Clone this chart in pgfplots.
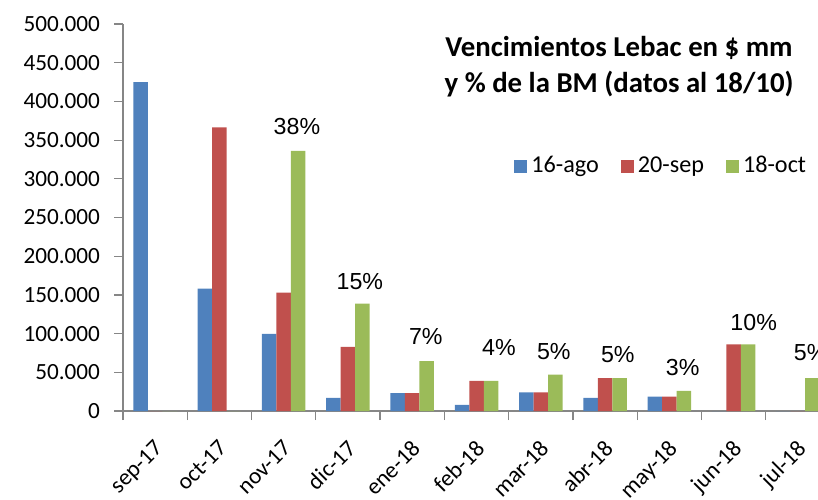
\documentclass[border=0pt]{standalone}
\usepackage{pgfplots}
\pgfplotsset{compat=1.18}
\usepackage{fontspec}
\setmainfont{Liberation Sans}
\newfontfamily\carlito{Carlito}
\definecolor{cblue}{HTML}{4F81BD}
\definecolor{cred}{HTML}{C0504D}
\definecolor{cgreen}{HTML}{9BBB59}
\definecolor{axgray}{HTML}{868686}
\begin{document}
\begin{tikzpicture}
\path[use as bounding box] (-61.5pt,-44pt) rectangle (347.5pt,205.5pt);
\clip (-61.5pt,-44pt) rectangle (347.5pt,205.5pt);
\begin{axis}[
  at={(0pt,0pt)}, anchor=south west,
  scale only axis, width=353.5pt, height=193.5pt,
  xmin=-0.5, xmax=10.5, ymin=0, ymax=500000,
  axis x line*=bottom, axis y line*=left,
  axis line style={axgray, line width=0.6pt},
  tick align=outside,
  major tick length=4.5pt, minor tick length=4.5pt,
  xtick={0,...,10},
  xticklabels={sep-17,oct-17,nov-17,dic-17,ene-18,feb-18,mar-18,abr-18,may-18,jun-18,jul-18},
  major x tick style={draw=none},
  minor xtick={-0.5,0.5,...,10.5},
  minor x tick style={axgray, line width=0.6pt},
  ytick={0,50000,...,500000},
  y tick style={axgray, line width=0.6pt},
  scaled y ticks=false,
  /pgf/number format/assume math mode=true,
  /pgf/number format/fixed,
  /pgf/number format/1000 sep={.},
  yticklabel style={font=\carlito\fontsize{11.6}{13}\selectfont, black, xshift=-3.5pt},
  xticklabel style={font=\carlito\fontsize{11.6}{13}\selectfont, black, anchor=north east, yshift=-4.5pt, xshift=-1pt, rotate=45},
  clip=false,
  legend style={at={(axis description cs:0.553,0.633)}, anchor=west, draw=none, fill=none,
    legend columns=3, inner sep=0pt, font=\carlito\fontsize{12.1}{14}\selectfont,
    /tikz/every even column/.append style={column sep=9pt}},
  legend image code/.code={\fill[#1] (0pt,-3.25pt) rectangle (6.5pt,3.25pt);},
]
\addplot[ybar, bar width=7.25pt, bar shift=-7.25pt, fill=cblue, draw=none] coordinates {
(0,425000) (1,158000) (2,99500) (3,17000) (4,23000) (5,8000) (6,24000) (7,17000) (8,18500) (9,0) (10,0)};
\addlegendentry{16-ago}
\addplot[ybar, bar width=7.25pt, bar shift=0pt, fill=cred, draw=none] coordinates {
(0,0) (1,366500) (2,153000) (3,83000) (4,23000) (5,39000) (6,24000) (7,42600) (8,18500) (9,86000) (10,0)};
\addlegendentry{20-sep}
\addplot[ybar, bar width=7.25pt, bar shift=7.25pt, fill=cgreen, draw=none] coordinates {
(0,0) (1,0) (2,336000) (3,138600) (4,64600) (5,39000) (6,47000) (7,42600) (8,26000) (9,86000) (10,42600)};
\addlegendentry{18-oct}
\addplot[draw=none, mark=none, forget plot, nodes near coords, point meta=explicit symbolic,
  every node near coord/.append style={anchor=center, inner sep=0pt, black, font=\fontsize{11.6}{13}\selectfont}]
  coordinates {
  (2.206,367000) [38\%]
  (3.186,166700) [15\%]
  (4.212,95600) [7\%]
  (5.348,81400) [4\%]
  (6.203,76200) [5\%]
  (7.198,72400) [5\%]
  (8.209,56800) [3\%]
  (9.313,113700) [10\%]
  (10.2,75000) [5\%]
  };
\node[align=center, font=\carlito\bfseries\fontsize{14.4}{18}\selectfont] at (axis description cs:0.7016,0.891)
  {Vencimientos Lebac en \$ mm\\y \% de la BM (datos al 18/10)};
\end{axis}
\end{tikzpicture}
\end{document}
